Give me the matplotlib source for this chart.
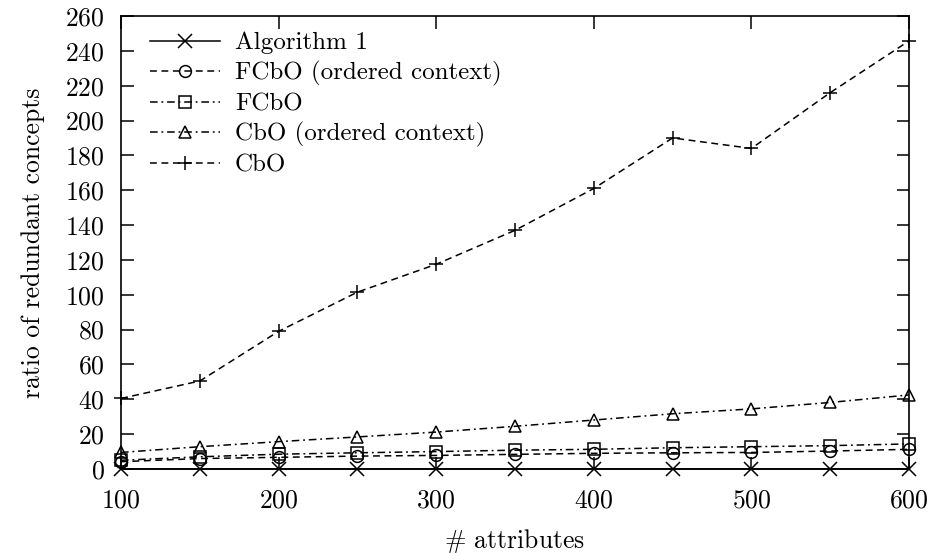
import matplotlib
matplotlib.use("Agg")
import matplotlib.pyplot as plt

plt.rcParams['font.family'] = ['cmr10', 'DejaVu Serif']
plt.rcParams['mathtext.fontset'] = 'cm'
plt.rcParams['axes.formatter.use_mathtext'] = True

attributes = [100, 150, 200, 250, 300, 350, 400, 450, 500, 550, 600]
algorithm1 = [0, 0, 0, 0, 0, 0, 0, 0, 0, 0, 0]
fcbo_ordered = [4.2, 6.0, 6.7, 7.4, 7.8, 8.4, 9.0, 9.3, 9.5, 10.3, 11.3]
fcbo = [5.0, 7.0, 8.5, 9.3, 10.0, 10.8, 11.3, 12.2, 12.8, 13.4, 14.4]
cbo_ordered = [9.5, 12.8, 15.7, 18.4, 21.2, 24.5, 28.1, 31.7, 34.5, 38.2, 42.5]
cbo = [40.5, 50.5, 79, 101.5, 117.5, 137, 161, 190, 184, 216, 245.7]

labels = ["Algorithm 1", "FCbO (ordered context)", "FCbO",
          "CbO (ordered context)", "CbO"]
xticks = [100, 200, 300, 400, 500, 600]
yticks = list(range(0, 261, 20))

FS = 18.5
LFS = 18

fig = plt.figure(figsize=(9.35, 5.6), dpi=100)
fig.subplots_adjust(left=121/935, right=909/935, top=1-16/560, bottom=1-469/560)
ax = fig.add_subplot(111)

lw = 1.1
dash = (0, (4.5, 3))
dashdot = (0, (5, 2.5, 1.2, 2.5))
common = dict(color='black', lw=lw, mfc='none', mew=1.1, clip_on=False)
ax.plot(attributes, algorithm1, linestyle='-', marker='x', ms=10, label=labels[0], **common)
ax.plot(attributes, fcbo_ordered, linestyle=dash, marker='o', ms=8.5, label=labels[1], **common)
ax.plot(attributes, fcbo, linestyle=dashdot, marker='s', ms=8, label=labels[2], **common)
ax.plot(attributes, cbo_ordered, linestyle=dashdot, marker='^', ms=9, label=labels[3], **common)
ax.plot(attributes, cbo, linestyle=dash, marker='+', ms=10.5, label=labels[4], **common)

ax.set_xlim(100, 600)
ax.set_ylim(0, 260)
ax.set_xticks(xticks)
ax.set_yticks(yticks)
ax.tick_params(direction='in', length=9, width=1.1, top=True, right=True,
               labelsize=FS)
ax.tick_params(axis='y', pad=11.5)
ax.tick_params(axis='x', pad=14)
for s in ax.spines.values():
    s.set_linewidth(1.2)

ax.set_xlabel(r"$\#$ attributes", fontsize=FS, labelpad=11)
ax.set_ylabel("ratio of redundant concepts", fontsize=FS, labelpad=15)

leg = ax.legend(loc='upper left', bbox_to_anchor=(150/935, 1-32/560),
                bbox_transform=fig.transFigure, frameon=False, fontsize=LFS,
                handlelength=2.8, handletextpad=0.6, labelspacing=0.27,
                borderpad=0, borderaxespad=0, numpoints=1)

fig.savefig("out.png", dpi=100)
